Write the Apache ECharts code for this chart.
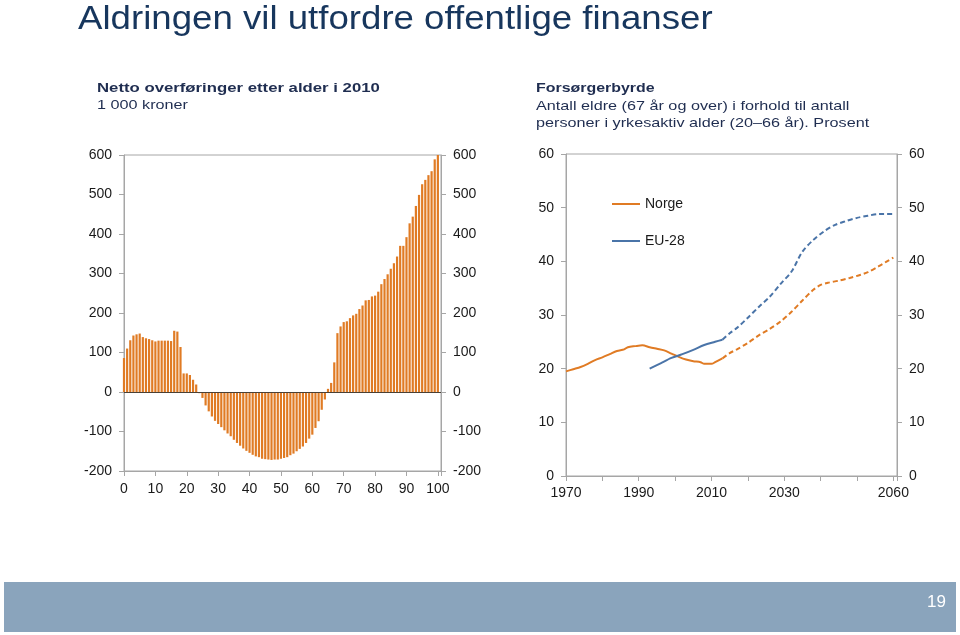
<!DOCTYPE html>
<html>
<head>
<meta charset="utf-8">
<script src="https://cdn.jsdelivr.net/npm/echarts@6/dist/echarts.min.js"></script>
<style>
html,body{margin:0;padding:0;background:#fff;}
#c{width:960px;height:635px;}
</style>
</head>
<body>
<div id="c"></div>
<script>
// Left chart: net transfers by age (1 000 NOK)
var ages = [];
for (var a = 0; a <= 100; a++) ages.push(a);
var transfers = [86,110,131,143,146,148,139,136,134,131,128,130,130,130,130,129,155,153,114,47,
  47,43,31,19,-3,-15,-34,-49,-62,-73,-81,-89,-97,-105,-112,-121,-129,-136,-143,-149,
  -154,-159,-163,-165,-169,-170,-171,-172,-171,-171,-169,-167,-165,-160,-156,-150,-144,-138,-129,-118,
  -108,-91,-74,-45,-19,8,23,75,149,166,177,179,187,194,198,210,219,232,233,242,
  244,254,273,286,298,312,326,343,370,370,392,427,444,471,499,526,537,549,559,589,600];
var leftXLabels = [0,10,20,30,40,50,60,70,80,90,100];
var leftYTicks = [-200,-100,0,100,200,300,400,500,600];

// Right chart: old-age dependency ratio (%)
var norgeYears = [1970,1972,1974,1976,1978,1980,1982,1984,1986,1987,1989,1991,1993,1995,1997,1999,2001,2003,2005,2007,2008,2010,2011,2013];
var norgeValues = [19.5,19.9,20.3,20.9,21.6,22.1,22.7,23.3,23.6,24.0,24.2,24.35,24.0,23.7,23.4,22.8,22.2,21.7,21.4,21.2,20.9,20.9,21.2,21.9];
var norgeProjYears = [2013,2015,2017,2020,2023,2026,2029,2032,2035,2038,2040,2042,2045,2048,2051,2053,2056,2058,2060];
var norgeProjValues = [21.9,22.9,23.6,24.8,26.2,27.4,28.8,30.6,32.7,34.7,35.6,36.0,36.4,36.9,37.5,38.0,39.1,39.9,40.7];
var euYears = [1993,1996,1999,2002,2005,2008,2011,2013];
var euValues = [20.0,21.0,22.0,22.7,23.5,24.4,25.0,25.4];
var euProjYears = [2013,2015,2017,2020,2023,2026,2029,2032,2035,2038,2041,2044,2047,2050,2053,2056,2060];
var euProjValues = [25.4,26.6,27.6,29.5,31.5,33.4,35.8,38.1,41.8,44.0,45.6,46.8,47.5,48.1,48.5,48.8,48.8];
var rightXLabels = [1970,1990,2010,2030,2060];

function zip(xs, ys){ return xs.map(function(x,i){ return [x, ys[i]]; }); }

var FONT = '"Liberation Sans", Arial, sans-serif';
var AX = '#A6A6A6';
var TXT = '#1a1a1a';
var ORANGE = '#E07B24';
var BLUE = '#4A74A8';
var NAVY = '#1F2D50';

function yAx(grid, pos, min, max, interval){
  return {
    type:'value', gridIndex:grid, position:pos, min:min, max:max, interval:interval,
    axisLine:{show:true, lineStyle:{color:AX, width:1}},
    axisTick:{show:true, length:5, lineStyle:{color:AX}},
    axisLabel:{fontSize:14, color:TXT, fontFamily:FONT, margin:12},
    splitLine:{show:false}
  };
}

var chart = echarts.init(document.getElementById('c'), null, {renderer:'canvas'});
chart.setOption({
  animation:false,
  backgroundColor:'#fff',
  grid:[
    {left:124, top:155, width:317, height:316, show:true, borderColor:AX, borderWidth:1},
    {left:566, top:154, width:331, height:322, show:true, borderColor:AX, borderWidth:1}
  ],
  xAxis:[
    {type:'value', gridIndex:0, min:0, max:101, interval:10,
     axisLine:{show:true, onZero:false, lineStyle:{color:AX}},
     axisTick:{show:true, length:5, lineStyle:{color:AX}},
     axisLabel:{fontSize:14, color:TXT, fontFamily:FONT, margin:11,
       formatter:function(v){ return leftXLabels.indexOf(v) >= 0 ? String(v) : ''; }},
     splitLine:{show:false}},
    {type:'value', gridIndex:1, min:1970, max:2061, interval:10,
     axisLine:{show:true, onZero:false, lineStyle:{color:AX}},
     axisTick:{show:true, length:5, lineStyle:{color:AX}},
     axisLabel:{fontSize:14, color:TXT, fontFamily:FONT, margin:10,
       formatter:function(v){ return rightXLabels.indexOf(v) >= 0 ? String(v) : ''; }},
     splitLine:{show:false}}
  ],
  yAxis:[
    yAx(0,'left',-200,600,100),
    yAx(0,'right',-200,600,100),
    yAx(1,'left',0,60,10),
    yAx(1,'right',0,60,10)
  ],
  legend:{
    data:['Norge','EU-28'], orient:'vertical', left:607, top:191,
    icon:'rect', itemWidth:28, itemHeight:2, itemGap:21,
    textStyle:{fontSize:14, color:TXT, fontFamily:FONT, lineHeight:16}
  },
  series:[
    {type:'bar', name:'Netto', xAxisIndex:0, yAxisIndex:0, data:zip(ages, transfers),
     barWidth:2.2, clip:false, itemStyle:{color:ORANGE},
     markLine:{silent:true, symbol:['none','none'], label:{show:false},
       lineStyle:{color:'#4a4035', width:1, type:'solid'}, data:[{yAxis:0}]}},
    {type:'line', name:'Norge', xAxisIndex:1, yAxisIndex:2, data:zip(norgeYears, norgeValues),
     showSymbol:false, symbol:'none', smooth:0.3, lineStyle:{color:ORANGE, width:2}, itemStyle:{color:ORANGE}},
    {type:'line', name:'Norge prognose', xAxisIndex:1, yAxisIndex:2, data:zip(norgeProjYears, norgeProjValues),
     showSymbol:false, symbol:'none', smooth:0.3, lineStyle:{color:ORANGE, width:2, type:[5,3]}, itemStyle:{color:ORANGE}},
    {type:'line', name:'EU-28', xAxisIndex:1, yAxisIndex:2, data:zip(euYears, euValues),
     showSymbol:false, symbol:'none', smooth:0.3, lineStyle:{color:BLUE, width:2}, itemStyle:{color:BLUE}},
    {type:'line', name:'EU-28 prognose', xAxisIndex:1, yAxisIndex:2, data:zip(euProjYears, euProjValues),
     showSymbol:false, symbol:'none', smooth:0.3, lineStyle:{color:BLUE, width:2, type:[5,3]}, itemStyle:{color:BLUE}}
  ],
  graphic:[
    {type:'text', x:78, y:3, scaleX:1.11, style:{text:'Aldringen vil utfordre offentlige finanser', fill:'#17365D', font:'33px '+FONT}},
    {type:'text', x:97, y:81, scaleX:1.24, style:{text:'Netto overføringer etter alder i 2010', fill:NAVY, font:'bold 13.5px '+FONT}},
    {type:'text', x:97, y:98, scaleX:1.2, style:{text:'1 000 kroner', fill:NAVY, font:'13.5px '+FONT}},
    {type:'text', x:536, y:81, scaleX:1.18, style:{text:'Forsørgerbyrde', fill:NAVY, font:'bold 13.5px '+FONT}},
    {type:'text', x:536, y:99, scaleX:1.2, style:{text:'Antall eldre (67 år og over) i forhold til antall', fill:NAVY, font:'13.5px '+FONT}},
    {type:'text', x:536, y:116, scaleX:1.2, style:{text:'personer i yrkesaktiv alder (20–66 år). Prosent', fill:NAVY, font:'13.5px '+FONT}},
    {type:'rect', shape:{x:4, y:582, width:952, height:50}, style:{fill:'#8AA4BC'}},
    {type:'text', x:927, y:594, style:{text:'19', fill:'#ffffff', font:'17px '+FONT}}
  ]
});
</script>
</body>
</html>
